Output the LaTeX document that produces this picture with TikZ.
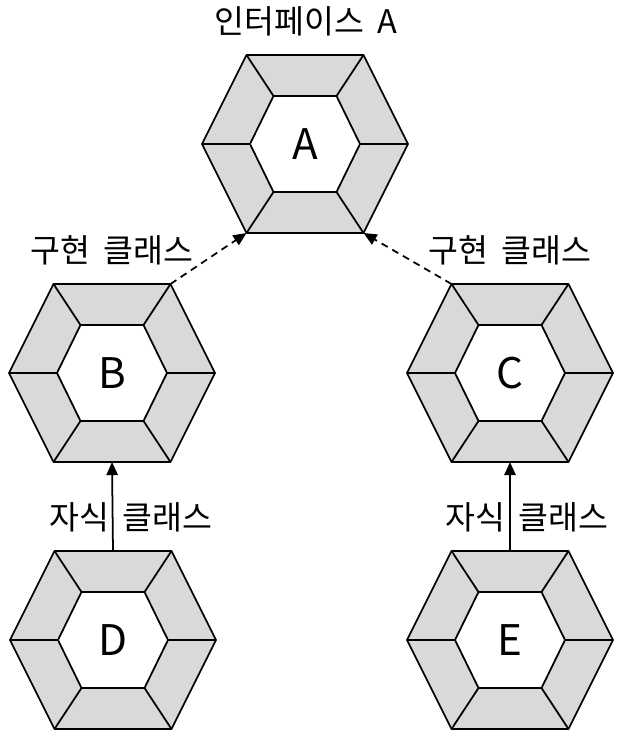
\documentclass[tikz,border=0pt]{standalone}
\usepackage{fontspec}
\setmainfont{Noto Sans CJK KR}
\usetikzlibrary{arrows.meta}

\definecolor{hexgray}{HTML}{D9D9D9}

% one framed hexagon: name, centre, letter
\newcommand\hexblock[3]{%
\begin{scope}[shift={#2}]
\draw[fill=hexgray] (-103,0) -- (-58.5,-89) -- (58.5,-89) -- (103,0) -- (58.5,89) -- (-58.5,89) -- cycle;
\draw[fill=white] (-55,0) -- (-31.5,-48) -- (31.5,-48) -- (55,0) -- (31.5,48) -- (-31.5,48) -- cycle;
\draw (-103,0) -- (-55,0) (103,0) -- (55,0)
      (-58.5,-89) -- (-31.5,-48) (58.5,-89) -- (31.5,-48)
      (-58.5,89) -- (-31.5,48) (58.5,89) -- (31.5,48);
\coordinate (#1-tl) at (-58.5,-89);
\coordinate (#1-tr) at (58.5,-89);
\coordinate (#1-bl) at (-58.5,89);
\coordinate (#1-br) at (58.5,89);
\coordinate (#1-t) at (0,-89);
\coordinate (#1-b) at (0,89);
\node[font=\fontsize{24}{28}\selectfont] (#1) at (0,0) {#3};
\end{scope}}

\newcommand\gap{\hspace{0.42em}}

\begin{document}
\begin{tikzpicture}[x=0.02cm, y=-0.02cm, >={Triangle[length=7.5pt,width=6.5pt]}, line width=1pt, line join=round,
  label/.style={font=\fontsize{18.5}{22}\selectfont, inner sep=0pt}]
\useasboundingbox (0,0) rectangle (621,736);

\hexblock{A}{(305,144)}{A}
\hexblock{B}{(112,373)}{B}
\hexblock{C}{(510,373)}{C}
\hexblock{D}{(113,640)}{D}
\hexblock{E}{(510,640)}{E}

\node[label] (lA) at (306,21) {인터페이스\gap A};
\node[label] (lB) at (112,250) {구현\gap 클래스};
\node[label] (lC) at (510,250) {구현\gap 클래스};
\node[label] (lD) at (131,517) {자식\gap 클래스};
\node[label] (lE) at (527,517) {자식\gap 클래스};

\draw[->, dash pattern=on 4pt off 3pt] (B-tr) -- (A-bl);
\draw[->, dash pattern=on 4pt off 3pt] (C-tl) -- (A-br);
\draw[->] (D-t) -- (B-b);
\draw[->] (E-t) -- (C-b);

\end{tikzpicture}
\end{document}
